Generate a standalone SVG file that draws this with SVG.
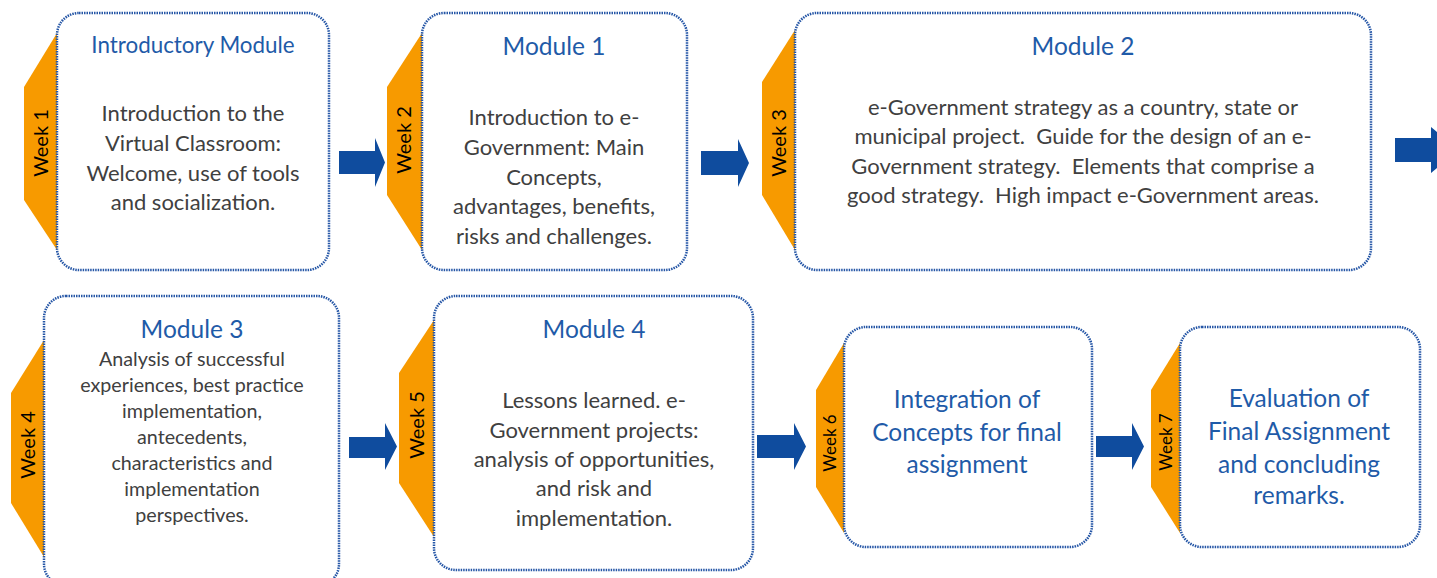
<svg xmlns="http://www.w3.org/2000/svg" width="1437" height="578" viewBox="0 0 1437 578">
<defs>
<style>
.box{fill:#fff;stroke:#2556A6;stroke-width:2.5;stroke-dasharray:1.5 1}
.tab{fill:#F79A00}
.arr{fill:#0F4C9E}
.wk{font-family:Lato,"Liberation Sans",sans-serif;font-size:20px;fill:#000;text-anchor:middle}
.ttl{font-family:Lato,"Liberation Sans",sans-serif;font-size:24.5px;fill:#1F5BA8;text-anchor:middle}
.body{font-family:Lato,"Liberation Sans",sans-serif;font-size:22px;fill:#404040;text-anchor:middle;white-space:pre}
.sm{font-size:19.7px}
.big{font-family:Lato,"Liberation Sans",sans-serif;font-size:24.5px;fill:#1F5BA8;text-anchor:middle}
</style>
</defs>
<g id="connectors">
<polygon class="arr" points="339,151 375,151 375,138 385,162.5 375,187 375,174 339,174"/>
<polygon class="arr" points="701,151 738,151 738,139 749,163 738,187 738,175 701,175"/>
<polygon class="arr" points="1395,138 1431,138 1431,127 1437,132 1437,168 1431,173 1431,162 1395,162"/>
<polygon class="arr" points="349,437 385,437 385,423 397,446.5 385,470 385,458 349,458"/>
<polygon class="arr" points="757,435 794,435 794,423 806,446.5 794,470 794,458 757,458"/>
<polygon class="arr" points="1096,436 1132,436 1132,423 1144,446.5 1132,470 1132,457 1096,457"/>
</g>
<g id="n1">
<polygon class="tab" points="57,33 24,87 24,200 57,250"/>
<rect class="box" x="57" y="13" width="272" height="257" rx="22"/>
<text class="wk" transform="translate(48,143) rotate(-90)">Week 1</text>
<text class="ttl" style="font-size:22.4px" x="193" y="53">Introductory Module</text>
<text class="body" x="193" y="121">Introduction to the</text>
<text class="body" x="193" y="151">Virtual Classroom:</text>
<text class="body" x="193" y="181">Welcome, use of tools</text>
<text class="body" x="193" y="210">and socialization.</text>
</g>
<g id="n2">
<polygon class="tab" points="422,33 387,87 387,195 422,250"/>
<rect class="box" x="422" y="13" width="265" height="257" rx="22"/>
<text class="wk" transform="translate(411,140) rotate(-90)">Week 2</text>
<text class="ttl" x="554" y="55">Module 1</text>
<text class="body" x="554" y="125">Introduction to e-</text>
<text class="body" x="554" y="155">Government: Main</text>
<text class="body" x="554" y="185">Concepts,</text>
<text class="body" x="554" y="214">advantages, benefits,</text>
<text class="body" x="554" y="244">risks and challenges.</text>
</g>
<g id="n3">
<polygon class="tab" points="795,30 762,82 762,195 795,250"/>
<rect class="box" x="795" y="13" width="576" height="257" rx="22"/>
<text class="wk" transform="translate(786,143) rotate(-90)">Week 3</text>
<text class="ttl" x="1083" y="55">Module 2</text>
<text class="body" x="1083" y="115">e-Government strategy as a country, state or</text>
<text class="body" x="1083" y="144">municipal project.  Guide for the design of an e-</text>
<text class="body" x="1083" y="174">Government strategy.  Elements that comprise a</text>
<text class="body" x="1083" y="203">good strategy.  High impact e-Government areas.</text>
</g>
<g id="n4">
<polygon class="tab" points="44,340 11,393 11,503 44,557"/>
<rect class="box" x="44" y="296" width="295" height="290" rx="22"/>
<text class="wk" transform="translate(35,445) rotate(-90)">Week 4</text>
<text class="ttl" x="192" y="338">Module 3</text>
<text class="body sm" x="192" y="366">Analysis of successful</text>
<text class="body sm" x="192" y="392">experiences, best practice</text>
<text class="body sm" x="192" y="418">implementation,</text>
<text class="body sm" x="192" y="444">antecedents,</text>
<text class="body sm" x="192" y="470">characteristics and</text>
<text class="body sm" x="192" y="496">implementation</text>
<text class="body sm" x="192" y="522">perspectives.</text>
</g>
<g id="n5">
<polygon class="tab" points="434,320 399,373 399,483 434,537"/>
<rect class="box" x="434" y="296" width="319" height="274" rx="22"/>
<text class="wk" transform="translate(424,425) rotate(-90)">Week 5</text>
<text class="ttl" x="594" y="338">Module 4</text>
<text class="body" x="594" y="408">Lessons learned. e-</text>
<text class="body" x="594" y="438">Government projects:</text>
<text class="body" x="594" y="467">analysis of opportunities,</text>
<text class="body" x="594" y="496">and risk and</text>
<text class="body" x="594" y="526">implementation.</text>
</g>
<g id="n6">
<polygon class="tab" points="844,343 816,390 816,487 844,533"/>
<rect class="box" x="844" y="327" width="248" height="220" rx="22"/>
<text class="wk" style="font-size:17px" transform="translate(836,443) rotate(-90)">Week 6</text>
<text class="big" x="967" y="408">Integration of</text>
<text class="big" x="967" y="441">Concepts for final</text>
<text class="big" x="967" y="473">assignment</text>
</g>
<g id="n7">
<polygon class="tab" points="1180,343 1151,390 1151,487 1180,533"/>
<rect class="box" x="1180" y="327" width="240" height="220" rx="22"/>
<text class="wk" style="font-size:17px" transform="translate(1172,442) rotate(-90)">Week 7</text>
<text class="big" x="1299" y="407">Evaluation of</text>
<text class="big" x="1299" y="440">Final Assignment</text>
<text class="big" x="1299" y="473">and concluding</text>
<text class="big" x="1299" y="504">remarks.</text>
</g>
</svg>
